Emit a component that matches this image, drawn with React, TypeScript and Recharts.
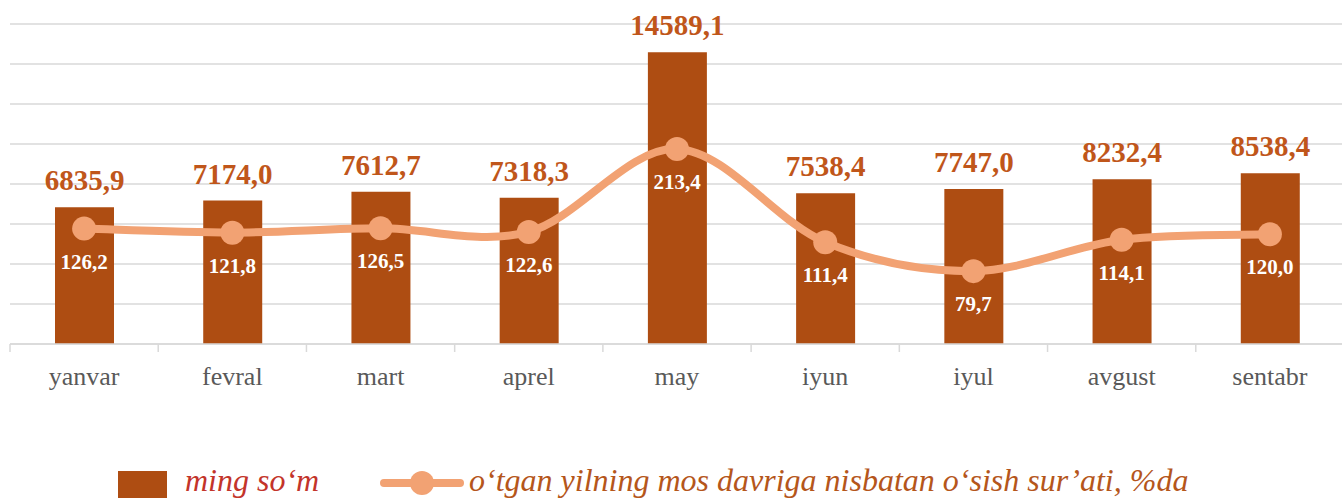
import React from 'react';
import { ComposedChart, Bar, Line, XAxis, YAxis, CartesianGrid, LabelList } from 'recharts';

const months = ['yanvar', 'fevral', 'mart', 'aprel', 'may', 'iyun', 'iyul', 'avgust', 'sentabr'];
const amounts = [6835.9, 7174.0, 7612.7, 7318.3, 14589.1, 7538.4, 7747.0, 8232.4, 8538.4];
const growth = [126.2, 121.8, 126.5, 122.6, 213.4, 111.4, 79.7, 114.1, 120.0];
const leftTicks = [0, 2000, 4000, 6000, 8000, 10000, 12000, 14000, 16000];
const rightDomain = [0, 350];

const barName = 'ming so\u2018m';
const lineName = 'o\u2018tgan yilning mos davriga nisbatan o\u2018sish sur\u2019ati, %da';

const data = months.map((m, i) => ({ month: m, amount: amounts[i], growth: growth[i] }));

const CHART_W = 1344;
const CHART_H = 498;
const M_LEFT = 10;
const M_RIGHT = 0;
const BAND = (CHART_W - M_LEFT - M_RIGHT) / months.length;

const BAR_COLOR = '#AE4D12';
const BAR_LABEL = '#C0561A';
const LINE_COLOR = '#F2A273';
const GRID = '#D9D9D9';
const SERIF = 'Liberation Serif';

const fmt = (v: number) => v.toFixed(1).replace('.', ',');

const catmullRom = (context: any) => {
  let pts: number[][] = [];
  return {
    areaStart() {},
    areaEnd() {},
    lineStart() { pts = []; },
    point(x: number, y: number) { pts.push([+x, +y]); },
    lineEnd() {
      if (!pts.length) return;
      context.moveTo(pts[0][0], pts[0][1]);
      const t = 1 / 6;
      for (let i = 0; i < pts.length - 1; i++) {
        const p0 = pts[i - 1] || pts[i];
        const p1 = pts[i];
        const p2 = pts[i + 1];
        const p3 = pts[i + 2] || p2;
        context.bezierCurveTo(
          p1[0] + (p2[0] - p0[0]) * t, p1[1] + (p2[1] - p0[1]) * t,
          p2[0] - (p3[0] - p1[0]) * t, p2[1] - (p3[1] - p1[1]) * t,
          p2[0], p2[1]
        );
      }
    },
  };
};

const AxisTick = (props: any) => {
  const { x, y, payload } = props;
  return (
    <g>
      <line x1={x - BAND / 2} x2={x - BAND / 2} y1={y} y2={y + 8} stroke={GRID} strokeWidth={1.5} />
      <text x={x} y={y + 41} textAnchor="middle" fill="#595959" style={{ fontFamily: SERIF, fontSize: 26 }}>
        {payload.value}
      </text>
    </g>
  );
};

const BarLabel = (props: any) => {
  const { x, y, width, value } = props;
  return (
    <text x={x + width / 2} y={y - 17} textAnchor="middle" fill={BAR_LABEL} style={{ fontFamily: SERIF, fontWeight: 'bold', fontSize: 29 }}>
      {fmt(value)}
    </text>
  );
};

const LineLabel = (props: any) => {
  const { x, y, value } = props;
  return (
    <text x={x} y={y + 40} textAnchor="middle" fill="#FFFFFF" style={{ fontFamily: SERIF, fontWeight: 'bold', fontSize: 21 }}>
      {fmt(value)}
    </text>
  );
};

export default function App() {
  return (
    <div style={{ position: 'absolute', left: 0, top: 0, width: 1342, height: 498, overflow: 'hidden', background: '#fff' }}>
      <ComposedChart width={CHART_W} height={CHART_H} data={data} margin={{ top: 24, right: M_RIGHT, left: M_LEFT, bottom: 114 }}>
        <CartesianGrid vertical={false} stroke={GRID} strokeWidth={1.5} />
        <XAxis dataKey="month" axisLine={{ stroke: GRID, strokeWidth: 1.5 }} tickLine={false} tickSize={0} tickMargin={0} height={40} tick={<AxisTick />} interval={0} />
        <YAxis domain={[0, 16000]} ticks={leftTicks} hide />
        <YAxis yAxisId="right" orientation="right" domain={rightDomain} hide />
        <Bar dataKey="amount" name={barName} fill={BAR_COLOR} barSize={59} isAnimationActive={false}>
          <LabelList dataKey="amount" content={<BarLabel />} />
        </Bar>
        <Line yAxisId="right" dataKey="growth" name={lineName} type={catmullRom as any} stroke={LINE_COLOR} strokeWidth={8}
          dot={{ r: 12, fill: LINE_COLOR, stroke: LINE_COLOR, strokeWidth: 0 }} activeDot={false} isAnimationActive={false}>
          <LabelList dataKey="growth" content={<LineLabel />} />
        </Line>
      </ComposedChart>
      <svg width={1342} height={40} style={{ position: 'absolute', left: 0, top: 460, display: 'block' }}>
        <rect x={118} y={11} width={49} height={40} fill={BAR_COLOR} />
        <text x={185} y={31} fill="#C3342A" style={{ fontFamily: SERIF, fontStyle: 'italic', fontSize: 32 }}>{barName}</text>
        <line x1={384} x2={460} y1={23} y2={23} stroke={LINE_COLOR} strokeWidth={8} strokeLinecap="round" />
        <circle cx={422} cy={23} r={12} fill={LINE_COLOR} />
        <text x={469} y={31} fill="#B5561B" style={{ fontFamily: SERIF, fontStyle: 'italic', fontSize: 32 }}>{lineName}</text>
      </svg>
    </div>
  );
}
